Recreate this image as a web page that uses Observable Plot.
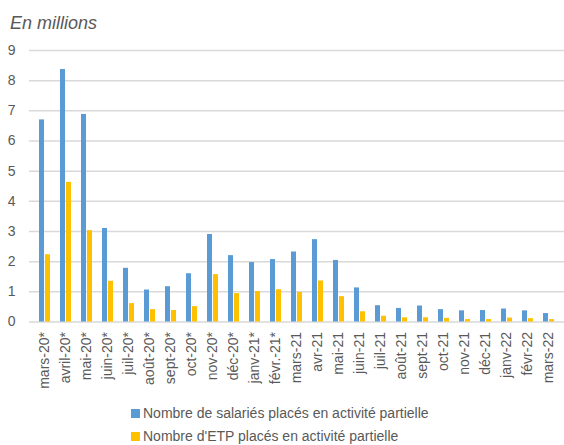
<!DOCTYPE html>
<html>
<head>
<meta charset="utf-8">
<script src="https://cdn.jsdelivr.net/npm/d3@7"></script>
<script src="https://cdn.jsdelivr.net/npm/@observablehq/plot@0.6"></script>
<style>
  body { margin: 0; background: #fff; font-family: "Liberation Sans", Arial, sans-serif; color: #595959; }
  #wrap { width: 564px; height: 445px; position: relative; overflow: hidden; }
  #title { height: 40px; box-sizing: border-box; padding: 13px 0 0 10px; font-style: italic; font-size: 18px; line-height: 20px; }
  #legend { position: absolute; left: 131px; top: 402px; font-size: 14px; line-height: 23px; }
  .item { display: flex; align-items: center; white-space: nowrap; }
  .sw { width: 9px; height: 9px; margin-right: 3px; }
  svg { display: block; }
</style>
</head>
<body>
<div id="wrap">
  <div id="title">En millions</div>
  <div id="chart"></div>
  <div id="legend"></div>
</div>
<script>
const months = ["mars-20*", "avril-20*", "mai-20*", "juin-20*", "juil-20*", "août-20*", "sept-20*", "oct-20*", "nov-20*", "déc-20*", "janv-21*", "févr.-21*", "mars-21", "avr-21", "mai-21", "juin-21", "juil-21", "août-21", "sept-21", "oct-21", "nov-21", "déc-21", "janv-22", "févr-22", "mars-22"];
const salaries = [6.70, 8.37, 6.88, 3.10, 1.78, 1.06, 1.17, 1.60, 2.90, 2.20, 1.97, 2.07, 2.32, 2.73, 2.04, 1.13, 0.54, 0.45, 0.53, 0.41, 0.37, 0.38, 0.43, 0.37, 0.28];
const etp = [2.23, 4.63, 3.03, 1.35, 0.61, 0.41, 0.38, 0.51, 1.57, 0.94, 1.01, 1.07, 0.98, 1.36, 0.84, 0.34, 0.19, 0.14, 0.14, 0.12, 0.08, 0.08, 0.13, 0.11, 0.08];
const yTicks = [0, 1, 2, 3, 4, 5, 6, 7, 8, 9];
const seriesNames = ["Nombre de salariés placés en activité partielle", "Nombre d'ETP placés en activité partielle"];
const colors = ["#5B9BD5", "#FFC000"];

const dataSal = months.map((m, i) => ({month: m, value: salaries[i]}));
const dataEtp = months.map((m, i) => ({month: m, value: etp[i]}));

const chart = Plot.plot({
  width: 564,
  height: 362,
  marginTop: 10,
  marginBottom: 80.5,
  marginLeft: 29,
  marginRight: 0,
  style: {fontFamily: "'Liberation Sans', Arial, sans-serif", fontSize: "14px", color: "#595959", background: "#fff"},
  x: {type: "band", domain: months, paddingInner: 0.486, paddingOuter: 0.243, tickSize: 0, tickPadding: 10, tickRotate: -90, label: null},
  y: {domain: [0, 9], ticks: yTicks, tickSize: 0, tickPadding: 14, label: null},
  marks: [
    Plot.ruleY(yTicks, {stroke: "#d9d9d9", strokeWidth: 1.5}),
    Plot.barY(dataSal, {x: "month", y: "value", fill: colors[0], insetRight: 6}),
    Plot.barY(dataEtp, {x: "month", y: "value", fill: colors[1], insetLeft: 6})
  ]
});
document.getElementById("chart").appendChild(chart);

const legend = document.getElementById("legend");
seriesNames.forEach((name, i) => {
  const row = document.createElement("div");
  row.className = "item";
  const sw = document.createElement("span");
  sw.className = "sw";
  sw.style.background = colors[i];
  const t = document.createElement("span");
  t.textContent = name;
  row.appendChild(sw);
  row.appendChild(t);
  legend.appendChild(row);
});
</script>
</body>
</html>
